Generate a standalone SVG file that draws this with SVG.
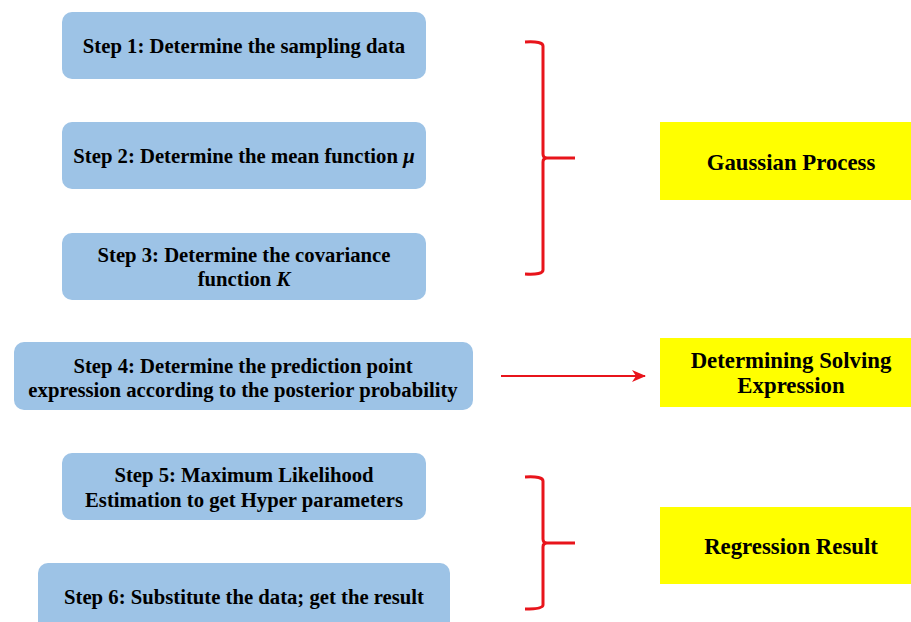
<svg xmlns="http://www.w3.org/2000/svg" width="911" height="622" viewBox="0 0 911 622">
<defs>
<style>
.step{fill:#9dc3e6}
.res{fill:#ffff00}
text{font-family:"Liberation Serif","Times New Roman",serif;font-weight:bold;font-size:20.7px;fill:#000;text-anchor:middle}
.big{font-size:22.8px}
.br{fill:none;stroke:#e8141b;stroke-width:3}
</style>
<marker id="ah" markerWidth="14" markerHeight="12" refX="13" refY="6" orient="auto" markerUnits="userSpaceOnUse">
<path d="M0,0 L14,6 L0,12 L4,6 Z" fill="#e8141b"/>
</marker>
</defs>
<rect width="911" height="622" fill="#fff"/>
<g id="step1"><rect class="step" x="62" y="12" width="364" height="67" rx="10"/><text x="244" y="53">Step 1: Determine the sampling data</text></g>
<g id="step2"><rect class="step" x="62" y="122" width="364" height="67" rx="10"/><text x="244" y="163">Step 2: Determine the mean function <tspan font-style="italic">μ</tspan></text></g>
<g id="step3"><rect class="step" x="62" y="233" width="364" height="67" rx="10"/><text x="244" y="262">Step 3: Determine the covariance</text><text x="244" y="286">function <tspan font-style="italic">K</tspan></text></g>
<g id="step4"><rect class="step" x="14" y="342" width="459" height="68" rx="10"/><text x="243" y="373">Step 4: Determine the prediction point</text><text x="243" y="397">expression according to the posterior probability</text></g>
<g id="step5"><rect class="step" x="62" y="453" width="364" height="67" rx="10"/><text x="244" y="482">Step 5: Maximum Likelihood</text><text x="244" y="507">Estimation to get Hyper parameters</text></g>
<g id="step6"><rect class="step" x="38" y="563" width="412" height="70" rx="10"/><text x="244" y="604">Step 6: Substitute the data; get the result</text></g>
<g id="gp"><rect class="res" x="660" y="122" width="251" height="78"/><text class="big" x="791" y="170">Gaussian Process</text></g>
<g id="dse"><rect class="res" x="660" y="338" width="251" height="69"/><text class="big" x="791" y="368">Determining Solving</text><text class="big" x="791" y="393">Expression</text></g>
<g id="rr"><rect class="res" x="660" y="507" width="251" height="77"/><text class="big" x="791" y="554">Regression Result</text></g>
<g id="connectors">
<path class="br" d="M525,42 Q543,41 543,46 L543,154 Q543,158 547,158 L575,158 M547,158 Q543,158 543,162 L543,270 Q543,275 525,274"/>
<line x1="501" y1="376" x2="645" y2="376" stroke="#e8141b" stroke-width="2" marker-end="url(#ah)"/>
<path class="br" d="M525,477 Q543,476 543,481 L543,539 Q543,543 547,543 L575,543 M547,543 Q543,543 543,547 L543,605 Q543,609 525,609"/>
</g>
</svg>
